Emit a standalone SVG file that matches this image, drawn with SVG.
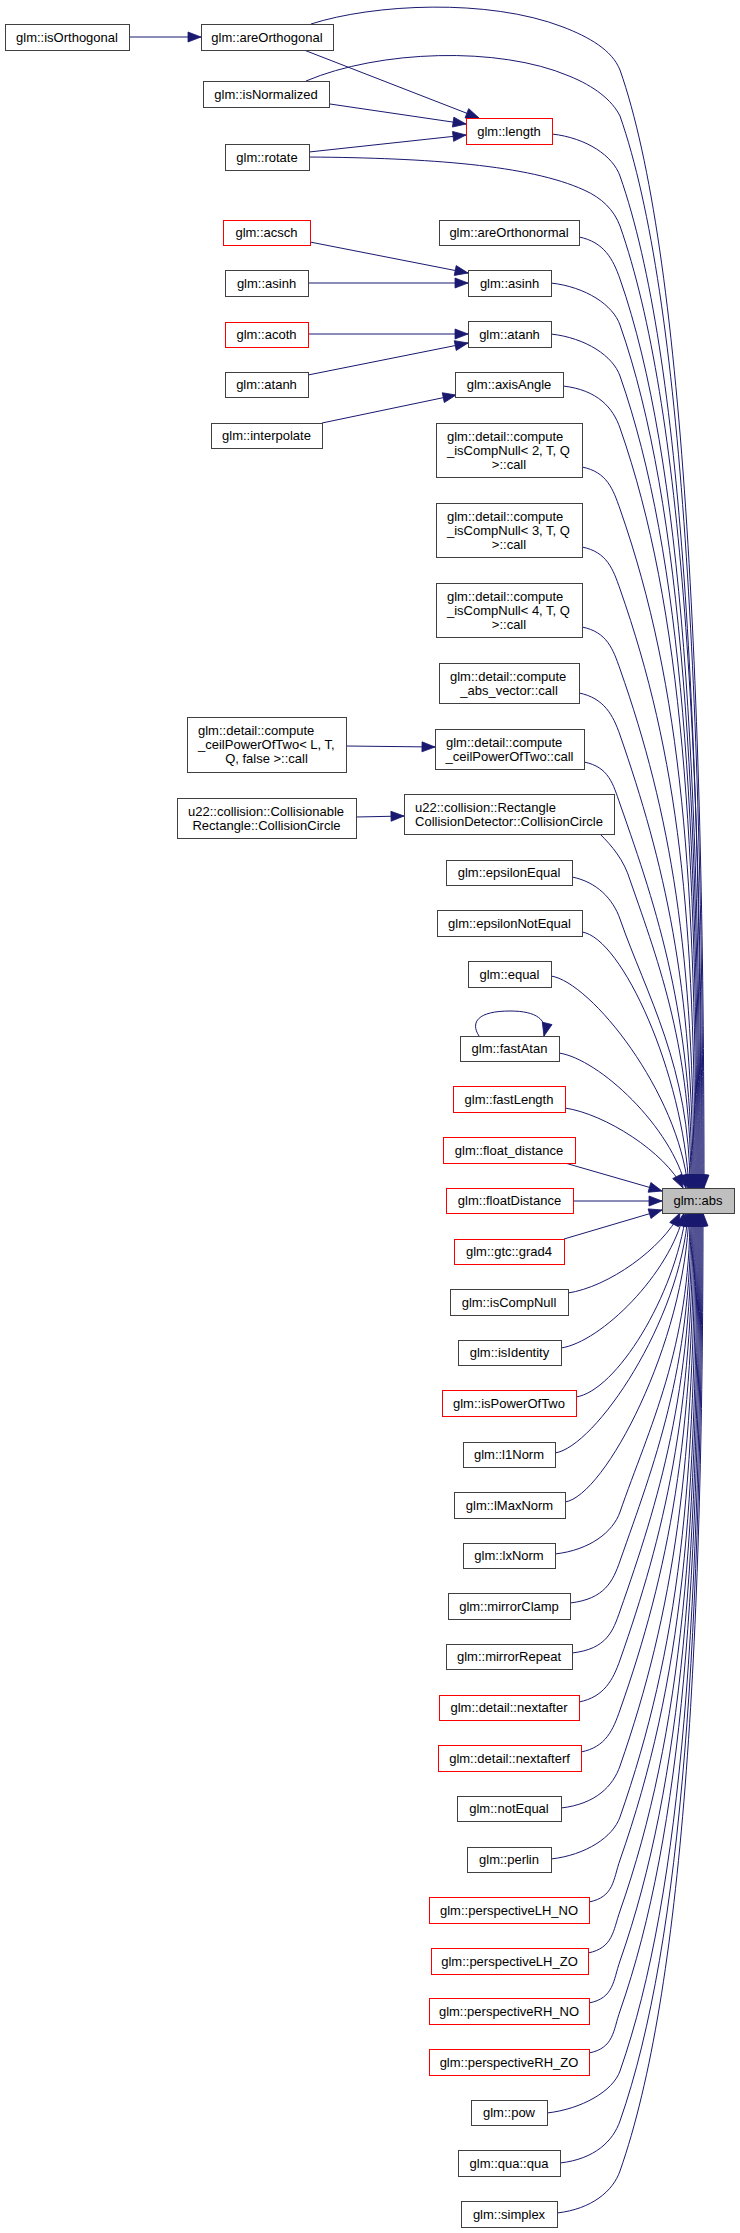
<svg xmlns="http://www.w3.org/2000/svg" width="740" height="2233" viewBox="0 0 740 2233">
<style>
.node rect{fill:#ffffff;stroke:#404040;stroke-width:1}
.red rect{stroke:#ff0000}
.cur rect{fill:#bfbfbf}
.node text{font-family:"Liberation Sans",Arial,sans-serif;font-size:13px;fill:#000000;text-anchor:middle}
.node text.l{text-anchor:start}
.edge path{fill:none;stroke:#191970;stroke-width:1;marker-end:url(#ah)}
</style>
<defs>
<marker id="ah" markerUnits="userSpaceOnUse" markerWidth="13" markerHeight="10" refX="13" refY="5" orient="auto" overflow="visible">
<path d="M0,0 L13,5 L0,10 z" fill="#191970" stroke="#191970" stroke-width="0.8"/>
</marker>
</defs>
<rect x="0" y="0" width="740" height="2233" fill="#ffffff"/>
<g id="connectors" class="edge">
<path d="M129,37 L201,37"/>
<path d="M304,50 L479,118"/>
<path d="M330,104 L466,124"/>
<path d="M309,152 L466,135"/>
<path d="M310,242 L468,273"/>
<path d="M308,283 L468,283"/>
<path d="M308,334 L468,334"/>
<path d="M308,375 L468,343"/>
<path d="M322,423 L456,395"/>
<path d="M346,746 L435,747"/>
<path d="M356,817 L404,816"/>
<path d="M479,1036 C470,1022 478,1011 510,1011 C537,1011 548,1020 544,1036"/>
<path d="M311,24 C373,4 488,-2 563,27 C589,37 612,50 620,70 C683,250 704,685 704,1188"/>
<path d="M306,81 C379,50 499,46 569,76 C594,86 612,100 620,116 C683,296 703,706 703,1188"/>
<path d="M309,157 C429,158 529,165 584,190 C602,198 614,210 620,226 C683,406 702,755 702,1188"/>
<path d="M552,134 C587,138 613,156 620,176 C683,356 701,733 701,1188"/>
<path d="M579,237 C604,242 613,259 620,279 C683,459 700,779 700,1188"/>
<path d="M551,283 C586,287 613,305 620,325 C683,505 699,800 699,1188"/>
<path d="M551,334 C586,338 613,356 620,376 C683,556 698,823 698,1188"/>
<path d="M563,386 C598,390 613,408 620,428 C683,608 697,846 697,1188"/>
<path d="M582,467 C607,472 613,489 620,509 C683,689 696,882 696,1188"/>
<path d="M582,547 C607,552 613,569 620,589 C679,757 695,918 695,1188"/>
<path d="M582,627 C607,632 613,649 620,669 C671,814 694,954 694,1188"/>
<path d="M579,693 C604,698 613,715 620,735 C664,862 693,984 693,1188"/>
<path d="M584,762 C609,767 613,784 620,804 C658,912 692,1015 692,1188"/>
<path d="M600,834 C612,846 624,860 630,880 C660,966 691,1049 691,1188"/>
<path d="M572,877 C597,882 613,899 620,919 C646,994 690,1067 690,1188"/>
<path d="M582,932 C622,938 683,1073 689,1188"/>
<path d="M551,976 C591,982 679,1093 688,1188"/>
<path d="M559,1053 C599,1059 672,1127 686,1188"/>
<path d="M565,1108 C605,1114 665,1152 683,1188"/>
<path d="M565,1163 L662,1191"/>
<path d="M573,1201 L662,1201"/>
<path d="M564,1239 L662,1210"/>
<path d="M568,1293 C608,1287 662,1249 680,1213"/>
<path d="M561,1348 C601,1342 670,1274 684,1213"/>
<path d="M576,1397 C616,1391 675,1296 686,1213"/>
<path d="M555,1453 C595,1447 681,1321 688,1213"/>
<path d="M565,1502 C605,1496 685,1343 689,1213"/>
<path d="M555,1554 C590,1550 613,1532 620,1512 C649,1428 690,1348 690,1213"/>
<path d="M570,1603 C605,1599 613,1581 620,1561 C654,1464 691,1370 691,1213"/>
<path d="M572,1653 C607,1649 613,1631 620,1611 C659,1500 692,1392 692,1213"/>
<path d="M579,1702 C604,1697 613,1680 620,1660 C664,1535 693,1414 693,1213"/>
<path d="M581,1752 C606,1747 613,1730 620,1710 C669,1571 694,1437 694,1213"/>
<path d="M561,1808 C596,1804 613,1786 620,1766 C674,1611 695,1462 695,1213"/>
<path d="M551,1859 C586,1855 613,1837 620,1817 C679,1648 696,1485 696,1213"/>
<path d="M589,1902 C614,1897 613,1880 620,1860 C683,1680 697,1504 697,1213"/>
<path d="M588,1953 C613,1948 613,1931 620,1911 C683,1731 698,1527 698,1213"/>
<path d="M589,2003 C614,1998 613,1981 620,1961 C683,1781 699,1550 699,1213"/>
<path d="M589,2053 C614,2048 613,2031 620,2011 C683,1831 700,1572 700,1213"/>
<path d="M547,2113 C582,2109 613,2091 620,2071 C683,1891 701,1599 701,1213"/>
<path d="M560,2163 C595,2159 613,2141 620,2121 C683,1941 702,1622 702,1213"/>
<path d="M557,2213 C592,2209 613,2191 620,2171 C683,1991 703,1644 703,1213"/>
</g>
<g id="n_isOrthogonal" class="node"><rect x="5.5" y="24.5" width="124" height="26"/><text x="67" y="41.5">glm::isOrthogonal</text></g>
<g id="n_areOrthogonal" class="node"><rect x="201.5" y="24.5" width="132" height="26"/><text x="267" y="41.5">glm::areOrthogonal</text></g>
<g id="n_isNormalized" class="node"><rect x="203.5" y="81.5" width="126" height="26"/><text x="266" y="98.5">glm::isNormalized</text></g>
<g id="n_rotate" class="node"><rect x="225.5" y="144.5" width="84" height="26"/><text x="267" y="161.5">glm::rotate</text></g>
<g id="n_length" class="node red"><rect x="466.5" y="118.5" width="86" height="26"/><text x="509" y="135.5">glm::length</text></g>
<g id="n_acsch" class="node red"><rect x="223.5" y="220.5" width="87" height="25"/><text x="266.5" y="237">glm::acsch</text></g>
<g id="n_areOrthonormal" class="node"><rect x="439.5" y="220.5" width="140" height="25"/><text x="509" y="237">glm::areOrthonormal</text></g>
<g id="n_asinh_l" class="node"><rect x="225.5" y="270.5" width="83" height="26"/><text x="266.5" y="287.5">glm::asinh</text></g>
<g id="n_asinh" class="node"><rect x="468.5" y="270.5" width="83" height="26"/><text x="509.5" y="287.5">glm::asinh</text></g>
<g id="n_acoth" class="node red"><rect x="225.5" y="322.5" width="83" height="25"/><text x="266.5" y="339">glm::acoth</text></g>
<g id="n_atanh" class="node"><rect x="468.5" y="321.5" width="83" height="26"/><text x="509.5" y="338.5">glm::atanh</text></g>
<g id="n_atanh_l" class="node"><rect x="225.5" y="372.5" width="83" height="25"/><text x="266.5" y="389">glm::atanh</text></g>
<g id="n_axisAngle" class="node"><rect x="455.5" y="372.5" width="108" height="25"/><text x="509" y="389">glm::axisAngle</text></g>
<g id="n_interpolate" class="node"><rect x="211.5" y="423.5" width="111" height="25"/><text x="266.5" y="440">glm::interpolate</text></g>
<g id="n_isCompNull2" class="node"><rect x="436.5" y="423.5" width="146" height="54"/><text class="l" x="447" y="440.5">glm::detail::compute</text><text class="l" x="447" y="454.5">_isCompNull&lt; 2, T, Q</text><text x="509" y="468.5">&gt;::call</text></g>
<g id="n_isCompNull3" class="node"><rect x="436.5" y="503.5" width="146" height="54"/><text class="l" x="447" y="520.5">glm::detail::compute</text><text class="l" x="447" y="534.5">_isCompNull&lt; 3, T, Q</text><text x="509" y="548.5">&gt;::call</text></g>
<g id="n_isCompNull4" class="node"><rect x="436.5" y="583.5" width="146" height="54"/><text class="l" x="447" y="600.5">glm::detail::compute</text><text class="l" x="447" y="614.5">_isCompNull&lt; 4, T, Q</text><text x="509" y="628.5">&gt;::call</text></g>
<g id="n_absVector" class="node"><rect x="439.5" y="663.5" width="140" height="40"/><text class="l" x="450" y="680.5">glm::detail::compute</text><text x="509" y="694.5">_abs_vector::call</text></g>
<g id="n_ceilL" class="node"><rect x="187.5" y="717.5" width="159" height="55"/><text class="l" x="198" y="735">glm::detail::compute</text><text class="l" x="198" y="749">_ceilPowerOfTwo&lt; L, T,</text><text x="266.5" y="763">Q, false &gt;::call</text></g>
<g id="n_ceil" class="node"><rect x="435.5" y="729.5" width="149" height="40"/><text class="l" x="446" y="746.5">glm::detail::compute</text><text x="509.5" y="760.5">_ceilPowerOfTwo::call</text></g>
<g id="n_collL" class="node"><rect x="177.5" y="798.5" width="179" height="40"/><text class="l" x="188" y="815.5">u22::collision::Collisionable</text><text x="266.5" y="829.5">Rectangle::CollisionCircle</text></g>
<g id="n_rectColl" class="node"><rect x="404.5" y="794.5" width="210" height="40"/><text class="l" x="415" y="811.5">u22::collision::Rectangle</text><text x="509" y="825.5">CollisionDetector::CollisionCircle</text></g>
<g id="n_epsilonEqual" class="node"><rect x="446.5" y="860.5" width="126" height="25"/><text x="509" y="877">glm::epsilonEqual</text></g>
<g id="n_epsilonNotEqual" class="node"><rect x="437.5" y="910.5" width="145" height="26"/><text x="509.5" y="927.5">glm::epsilonNotEqual</text></g>
<g id="n_equal" class="node"><rect x="468.5" y="961.5" width="83" height="26"/><text x="509.5" y="978.5">glm::equal</text></g>
<g id="n_fastAtan" class="node"><rect x="460.5" y="1036.5" width="99" height="25"/><text x="509.5" y="1053">glm::fastAtan</text></g>
<g id="n_fastLength" class="node red"><rect x="453.5" y="1086.5" width="112" height="26"/><text x="509" y="1103.5">glm::fastLength</text></g>
<g id="n_float_distance" class="node red"><rect x="443.5" y="1137.5" width="132" height="26"/><text x="509" y="1154.5">glm::float_distance</text></g>
<g id="n_floatDistance" class="node red"><rect x="446.5" y="1188.5" width="127" height="25"/><text x="509.5" y="1205">glm::floatDistance</text></g>
<g id="n_abs" class="node cur"><rect x="662.5" y="1188.5" width="72" height="25"/><text x="698" y="1205">glm::abs</text></g>
<g id="n_grad4" class="node red"><rect x="454.5" y="1239.5" width="110" height="25"/><text x="509" y="1256">glm::gtc::grad4</text></g>
<g id="n_isCompNull" class="node"><rect x="450.5" y="1289.5" width="118" height="26"/><text x="509" y="1306.5">glm::isCompNull</text></g>
<g id="n_isIdentity" class="node"><rect x="458.5" y="1340.5" width="103" height="25"/><text x="509.5" y="1357">glm::isIdentity</text></g>
<g id="n_isPowerOfTwo" class="node red"><rect x="442.5" y="1390.5" width="134" height="26"/><text x="509" y="1407.5">glm::isPowerOfTwo</text></g>
<g id="n_l1Norm" class="node"><rect x="463.5" y="1442.5" width="92" height="25"/><text x="509" y="1459">glm::l1Norm</text></g>
<g id="n_lMaxNorm" class="node"><rect x="454.5" y="1492.5" width="111" height="26"/><text x="509.5" y="1509.5">glm::lMaxNorm</text></g>
<g id="n_lxNorm" class="node"><rect x="463.5" y="1543.5" width="92" height="25"/><text x="509" y="1560">glm::lxNorm</text></g>
<g id="n_mirrorClamp" class="node"><rect x="448.5" y="1593.5" width="122" height="26"/><text x="509" y="1610.5">glm::mirrorClamp</text></g>
<g id="n_mirrorRepeat" class="node"><rect x="446.5" y="1644.5" width="126" height="25"/><text x="509" y="1661">glm::mirrorRepeat</text></g>
<g id="n_nextafter" class="node red"><rect x="439.5" y="1695.5" width="140" height="25"/><text x="509" y="1712">glm::detail::nextafter</text></g>
<g id="n_nextafterf" class="node red"><rect x="438.5" y="1745.5" width="143" height="26"/><text x="509.5" y="1762.5">glm::detail::nextafterf</text></g>
<g id="n_notEqual" class="node"><rect x="457.5" y="1796.5" width="104" height="25"/><text x="509" y="1813">glm::notEqual</text></g>
<g id="n_perlin" class="node"><rect x="467.5" y="1847.5" width="84" height="25"/><text x="509" y="1864">glm::perlin</text></g>
<g id="n_perspectiveLH_NO" class="node red"><rect x="429.5" y="1897.5" width="160" height="26"/><text x="509" y="1914.5">glm::perspectiveLH_NO</text></g>
<g id="n_perspectiveLH_ZO" class="node red"><rect x="431.5" y="1948.5" width="157" height="26"/><text x="509.5" y="1965.5">glm::perspectiveLH_ZO</text></g>
<g id="n_perspectiveRH_NO" class="node red"><rect x="429.5" y="1998.5" width="160" height="26"/><text x="509" y="2015.5">glm::perspectiveRH_NO</text></g>
<g id="n_perspectiveRH_ZO" class="node red"><rect x="429.5" y="2049.5" width="160" height="26"/><text x="509" y="2066.5">glm::perspectiveRH_ZO</text></g>
<g id="n_pow" class="node"><rect x="471.5" y="2100.5" width="76" height="25"/><text x="509" y="2117">glm::pow</text></g>
<g id="n_qua" class="node"><rect x="458.5" y="2150.5" width="102" height="26"/><text x="509" y="2167.5">glm::qua::qua</text></g>
<g id="n_simplex" class="node"><rect x="461.5" y="2201.5" width="96" height="26"/><text x="509" y="2218.5">glm::simplex</text></g>
</svg>
